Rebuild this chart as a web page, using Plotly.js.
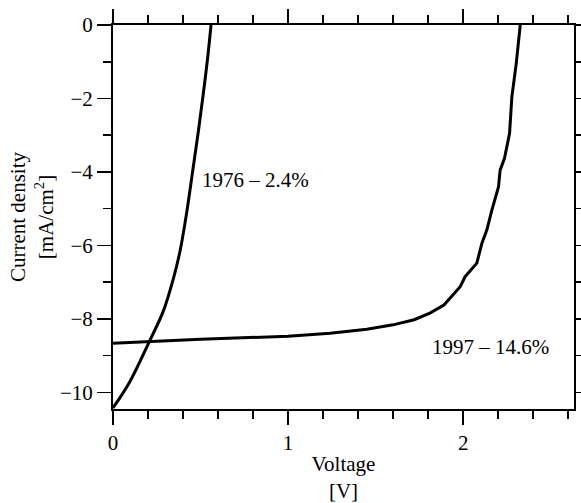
<!DOCTYPE html>
<html>
<head>
<meta charset="utf-8">
<script src="https://cdn.plot.ly/plotly-3.0.1.min.js"></script>
<style>html,body{margin:0;padding:0;background:#fff;}#chart{width:581px;height:503px;}</style>
</head>
<body>
<div id="chart"></div>
<script>
// Voltage [V] and current density [mA/cm2]
var voltage1976 = [0, 0.097, 0.208, 0.288, 0.345, 0.383, 0.421, 0.455, 0.488, 0.516, 0.539, 0.56];
var current1976 = [-10.42, -9.70, -8.61, -7.78, -6.90, -6.15, -5.10, -3.98, -2.88, -1.86, -0.96, 0];

var voltage1997 = [0, 0.5, 1.0, 1.24, 1.45, 1.6, 1.72, 1.81, 1.89, 1.983, 2.011, 2.078, 2.107, 2.135, 2.164, 2.202, 2.211, 2.236, 2.265, 2.278, 2.303, 2.326];
var current1997 = [-8.66, -8.55, -8.47, -8.39, -8.28, -8.16, -8.02, -7.84, -7.62, -7.12, -6.85, -6.48, -5.94, -5.58, -5.04, -4.40, -3.95, -3.63, -2.95, -1.96, -1.05, 0];

var labels = ["1976 – 2.4%", "1997 – 14.6%"];
var labelX = [0.814, 2.154];
var labelY = [-4.22, -8.75];

var font = {family: "'Liberation Serif', 'Times New Roman', serif", size: 21, color: "#000"};

var traces = [
  {x: voltage1976, y: current1976, mode: "lines", line: {color: "#000", width: 3, shape: "spline", smoothing: 1}, hoverinfo: "skip"},
  {x: voltage1997, y: current1997, mode: "lines", line: {color: "#000", width: 3}, hoverinfo: "skip"}
];

var annotations = labels.map(function (t, i) {
  return {x: labelX[i], y: labelY[i], text: t, showarrow: false, xanchor: "center", yanchor: "middle", font: font};
});

var layout = {
  width: 581, height: 503,
  margin: {l: 113, r: 7.3, t: 24.7, b: 93.7},
  paper_bgcolor: "#fff", plot_bgcolor: "#fff",
  showlegend: false,
  font: font,
  xaxis: {
    range: [0, 2.633], tickvals: [0, 1, 2], ticktext: ["0", "1", "2"],
    ticks: "outside", ticklen: 14, tickwidth: 1.5, tickcolor: "#000",
    minor: {dtick: 0.2, tick0: 0, ticks: "outside", ticklen: 8, tickwidth: 1.5, tickcolor: "#000", showgrid: false},
    showline: true, linecolor: "#000", linewidth: 2, mirror: "ticks",
    showgrid: false, zeroline: false,
    tickfont: font,
    title: {text: "Voltage<br>[V]", font: font, standoff: 8}
  },
  yaxis: {
    range: [-10.45, 0], tickvals: [0, -2, -4, -6, -8, -10],
    ticks: "outside", ticklen: 14, tickwidth: 1.5, tickcolor: "#000",
    minor: {dtick: 1, tick0: 0, ticks: "outside", ticklen: 8, tickwidth: 1.5, tickcolor: "#000", showgrid: false},
    showline: true, linecolor: "#000", linewidth: 2, mirror: "ticks",
    showgrid: false, zeroline: false,
    tickfont: font,
    title: {text: "Current density<br>[mA/cm<sup>2</sup>]", font: font, standoff: 1}
  },
  annotations: annotations
};

Plotly.newPlot("chart", traces, layout, {staticPlot: true, displayModeBar: false});
</script>
</body>
</html>
